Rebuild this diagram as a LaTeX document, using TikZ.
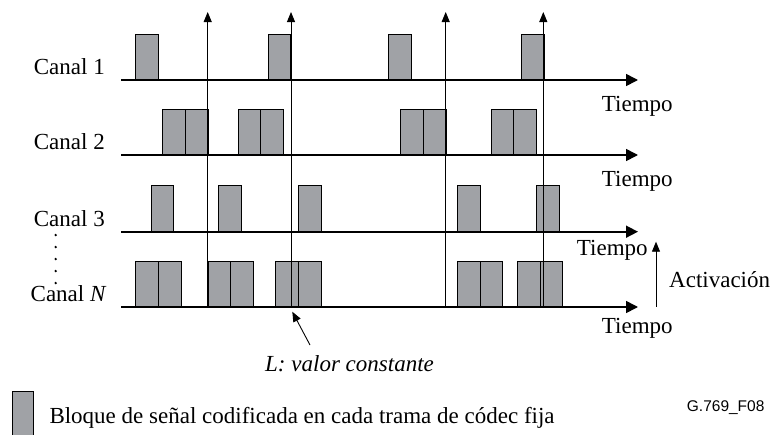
\documentclass[tikz,border=0pt]{standalone}
\usepackage{fontspec}
\setmainfont{Liberation Serif}
\newfontfamily\figfont{Liberation Sans}
\usetikzlibrary{arrows.meta, positioning}
\definecolor{blkgray}{RGB}{160,162,166}

\begin{document}
\begin{tikzpicture}[x=1pt,y=-1pt,
  font=\fontsize{23}{27}\selectfont,
  blk/.style={draw=black,fill=blkgray,line width=0.8pt,
              minimum width=22.7pt,minimum height=45.7pt,
              inner sep=0pt,anchor=south west},
  axis/.style={-{Triangle[length=12pt,width=12pt]},line width=1.6pt},
  frm/.style={-{Triangle[length=10pt,width=8pt]},line width=0.9pt},
  lbl/.style={inner sep=0pt,anchor=base east},
  tlbl/.style={inner sep=0pt,anchor=base west}
]
  \useasboundingbox (0,0) rectangle (774,434);
  % time axes
  \foreach \n/\y in {1/80,2/155,3/231.7,N/307}{
    \coordinate (s\n) at (121,\y);
    \coordinate (e\n) at (638,\y);
    \draw[axis] (s\n) -- (e\n);
  }
  % coded signal blocks
  \foreach \x [count=\i] in {135.3,267.7,388.3,521}
    \node[blk] (b1-\i) at (\x,80) {};
  \foreach \x [count=\i] in {162.3,185,237.7,260.4,400.3,423,490.7,513.4}
    \node[blk] (b2-\i) at (\x,155) {};
  \foreach \x [count=\i] in {150.7,218.3,298.3,457,536.3}
    \node[blk] (b3-\i) at (\x,231.7) {};
  \foreach \x [count=\i] in {135.3,158,207.7,230.4,275.3,298,457,479.7,517,539.7}
    \node[blk] (bN-\i) at (\x,307) {};
  % frame boundaries
  \foreach \x [count=\i] in {207.7,291,445.7,543.3}{
    \coordinate (f\i) at (\x,307);
    \coordinate (t\i) at (\x,12);
    \draw[frm] (f\i) -- (t\i);
  }
  % channel labels
  \node[lbl] (c1) at (105,74.5) {Canal 1};
  \node[lbl] (c2) at (105,149.5) {Canal 2};
  \node[lbl] (c3) at (105,226) {Canal 3};
  \node[lbl] (cN) at (106.7,301) {Canal \textit{N}};
  \foreach \y in {235,247,259,271,283}
    \fill (55.7,\y) circle (1.3pt);
  \node[tlbl] (ti1) at (601.7,111.7) {Tiempo};
  \node[tlbl] (ti2) at (601.7,186.7) {Tiempo};
  \node[tlbl] (ti3) at (576.7,255) {Tiempo};
  \node[tlbl] (tiN) at (601.7,333.3) {Tiempo};
  % activation
  \coordinate (act0) at (656,306.7);
  \coordinate (act1) at (656,241.7);
  \draw[frm] (act0) -- (act1);
  \node[tlbl] (act) at (669,287.3) {Activación};
  % constant L
  \node[tlbl] (lval) at (265,371.7) {\textit{L: valor constante}};
  \coordinate (lt) at (310,345);
  \coordinate (lp) at (292.3,311.7);
  \draw[frm] (lt) -- (lp);
  % legend
  \node[blk,anchor=north west,minimum width=21.6pt,minimum height=46pt] (key) at (11.7,391) {};
  \node[tlbl] (keytxt) at (49.3,423.3) {Bloque de señal codificada en cada trama de códec fija};
  \node[tlbl,font=\figfont\fontsize{15.5}{18}\selectfont] (fig) at (686.7,411.7) {G.769\_F08};
\end{tikzpicture}
\end{document}
